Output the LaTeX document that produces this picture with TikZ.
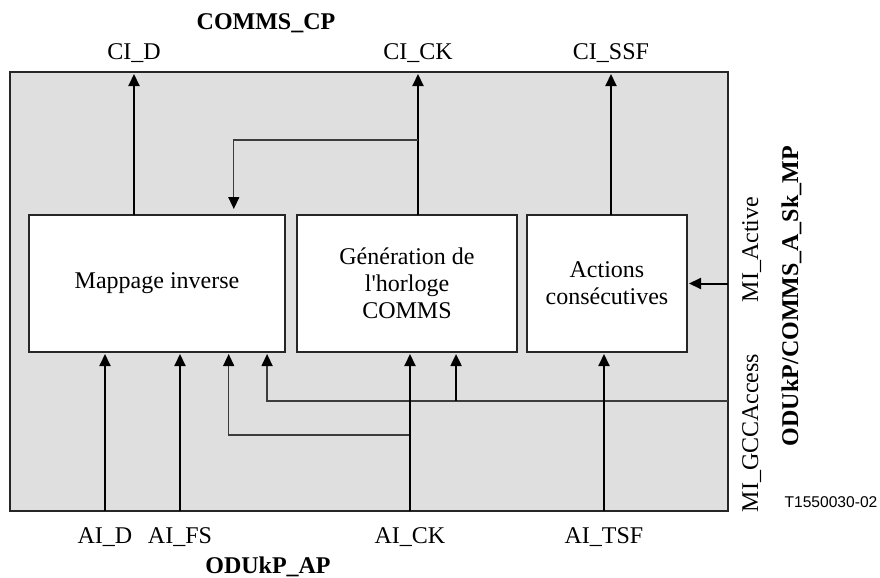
\documentclass[tikz,border=0pt]{standalone}
\usepackage{fontspec}
\setmainfont{Liberation Serif}
\newfontfamily\figsans{Liberation Sans}
\usetikzlibrary{arrows.meta, calc}

\begin{document}
\begin{tikzpicture}[x=0.5pt, y=-0.5pt, >={Triangle[length=6pt, width=5.5pt, black]},
    font=\fontsize{12}{13.5}\selectfont]

    % --- Definitions ---
    % Colours to match the image
    \definecolor{panelgray}{RGB}{223, 223, 223}
    \definecolor{wiregray}{RGB}{60, 60, 60}

    \tikzset{
        panel/.style={draw=black!85, fill=panelgray, line width=0.6pt,
            minimum width=359pt, minimum height=219.5pt, inner sep=0pt, outer sep=0pt},
        block/.style={draw=black!85, fill=white, line width=0.6pt, align=center,
            minimum height=68.5pt, inner sep=0pt, outer sep=0pt},
        sig/.style={->, line width=1pt, shorten >=1pt},
        wire/.style={draw=wiregray, line width=0.65pt},
        port/.style={anchor=base},
        title/.style={anchor=base, font=\fontsize{12}{13.5}\selectfont\bfseries},
    }

    \useasboundingbox (0,0) rectangle (880,578);

    % --- Frame and blocks ---
    \node[panel] (frame) at (369,291.5) {};
    \node[block, minimum width=128pt] (map) at (157,283.5) {Mappage inverse};
    \node[block, minimum width=110pt] (gen) at (407,283.5)
        {Génération de\\l\textquotesingle horloge\\COMMS};
    \node[block, minimum width=80pt] (act) at (607,283.5) {Actions\\consécutives};

    % --- Points (top) ---
    \node[title] (cp) at (266,29) {COMMS\_CP};
    \node[port] (cid) at (134,60) {CI\_D};
    \node[port] (cick) at (418,60) {CI\_CK};
    \node[port] (cissf) at (611,60) {CI\_SSF};

    % --- Points (bottom) ---
    \node[port] (aid) at (105,543) {AI\_D};
    \node[port] (aifs) at (180,543) {AI\_FS};
    \node[port] (aick) at (410,543) {AI\_CK};
    \node[port] (aitsf) at (604,543) {AI\_TSF};
    \node[title] (ap) at (268,573) {ODUkP\_AP};

    % --- Management side ---
    \node[port, rotate=90] (miact) at (758,249.5) {MI\_Active};
    \node[port, rotate=90] (migcc) at (758,433) {MI\_GCCAccess};
    \node[title, rotate=90] (mp) at (798,296) {ODUkP/COMMS\_A\_Sk\_MP};
    \node[anchor=base, font=\figsans\fontsize{7.8}{9}\selectfont] (tag) at (831,507)
        {T1550030-02};

    % --- Tap points ---
    \coordinate (ckfork) at (418,140);
    \coordinate (aifork) at (410,435);
    \coordinate (gccrow) at (728,401);
    \coordinate (mapck) at ($(map.north west)!0.8!(map.north east)$);
    \coordinate (mapai) at ($(map.south west)!0.78!(map.south east)$);
    \coordinate (mapgcc) at ($(map.south west)!0.93!(map.south east)$);
    \coordinate (gengcc) at ($(gen.south west)!0.723!(gen.south east)$);

    % --- Outputs ---
    \draw[sig] (map.north -| cid) -- (frame.north -| cid);
    \draw[sig] (gen.north -| cick) -- (frame.north -| cick);
    \draw[sig] (act.north -| cissf) -- (frame.north -| cissf);
    \draw[wire, ->, shorten >=3pt] (ckfork) -| (mapck);

    % --- Inputs ---
    \draw[wire, ->, shorten >=1pt] (gccrow) -| (mapgcc);
    \draw[wire, ->, shorten >=1pt] (aifork) -| (mapai);
    \draw[sig] (frame.south -| aid) -- (map.south -| aid);
    \draw[sig] (frame.south -| aifs) -- (map.south -| aifs);
    \draw[sig] (frame.south -| aick) -- (gen.south -| aick);
    \draw[sig] (frame.south -| aitsf) -- (act.south -| aitsf);
    \draw[sig] (gengcc |- gccrow) -- (gengcc);
    \draw[sig] (frame.east |- act) -- (act.east);

\end{tikzpicture}
\end{document}
